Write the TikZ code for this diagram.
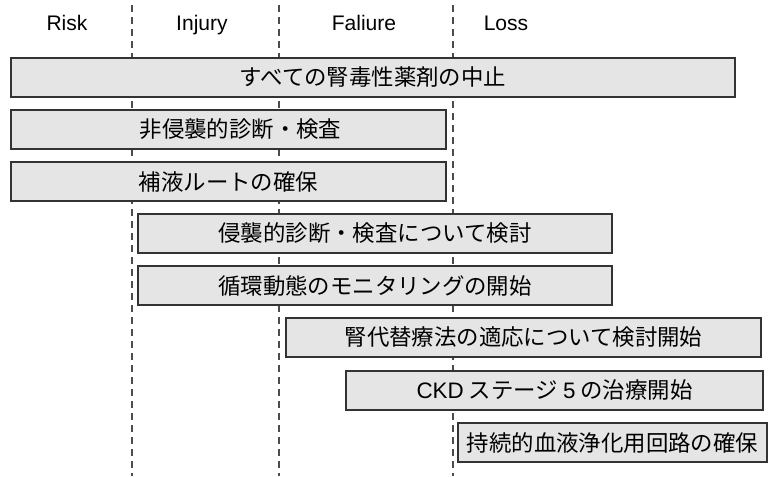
\documentclass[tikz,border=0pt]{standalone}
\usepackage{fontspec}
\setmainfont{Liberation Sans}
\newfontfamily\jp{Noto Sans CJK JP}
\begin{document}
\begin{tikzpicture}[x=0.75pt,y=-0.75pt,
  box/.style={draw=black!80, fill=black!10, line width=0.9pt, inner sep=0pt,
    minimum height=29.25pt, font=\jp\fontsize{16.8}{18}\selectfont},
  phase/.style={font=\fontsize{15.8}{17}\selectfont, anchor=base},
  divider/.style={draw=black!70, line width=1.2pt, dash pattern=on 5.5pt off 3.5pt}]
\useasboundingbox (0,0) rectangle (772,476);
% phase dividers
\coordinate (d1t) at (132,5);   \coordinate (d1b) at (132,476);
\coordinate (d2t) at (279,5);   \coordinate (d2b) at (279,476);
\coordinate (d3t) at (453,5);   \coordinate (d3b) at (453,476);
\draw[divider] (d1t) -- (d1b);
\draw[divider] (d2t) -- (d2b);
\draw[divider] (d3t) -- (d3b);
% phase labels
\node[phase] (risk)   at (67,30)  {Risk};
\node[phase] (injury) at (202,30) {Injury};
\node[phase] (fail)   at (364,30) {Faliure};
\node[phase] (loss)   at (506,30) {Loss};
% boxes
\node[box, minimum width=543pt]    (b1) at (373,77.5)    {すべての腎毒性薬剤の中止};
\node[box, minimum width=326.25pt] (b2) at (228.5,129.5) {\hspace*{18pt}非侵襲的診断・検査};
\node[box, minimum width=326.25pt] (b3) at (228.5,181.5) {補液ルートの確保};
\node[box, minimum width=355.5pt]  (b4) at (375,233.5)   {侵襲的診断・検査について検討};
\node[box, minimum width=355.5pt]  (b5) at (375,285.5)   {循環動態のモニタリングの開始};
\node[box, minimum width=356.25pt] (b6) at (523.5,337.5) {腎代替療法の適応について検討開始};
\node[box, minimum width=312.75pt] (b7) at (554.5,390.5) {{\rmfamily CKD} ステージ {\rmfamily 5} の治療開始};
\node[box, minimum width=231.75pt] (b8) at (612.5,442.5) {持続的血液浄化用回路の確保};
\end{tikzpicture}
\end{document}
